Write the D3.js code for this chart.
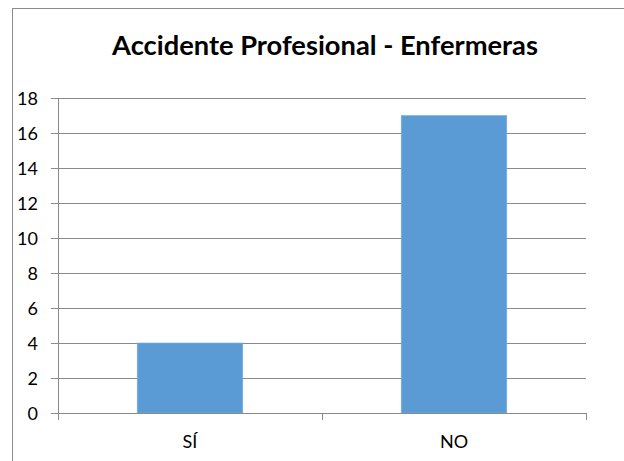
<!DOCTYPE html>
<html><head><meta charset="utf-8">
<script src="https://cdn.jsdelivr.net/npm/d3@7"></script>
<style>html,body{margin:0;padding:0;background:#fff;}svg{display:block;}</style>
</head><body>
<script>
const categories = ["SÍ", "NO"];
const values = [4, 17];
const yTicks = [0, 2, 4, 6, 8, 10, 12, 14, 16, 18];
const title = "Accidente Profesional - Enfermeras";

const W = 624, H = 461;
const svg = d3.select("body").append("svg").attr("width", W).attr("height", H);
const font = "Lato, 'Open Sans', sans-serif";

// chart outer border
svg.append("rect").attr("x", 12.5).attr("y", 8.5).attr("width", 640).attr("height", 470)
  .attr("fill", "#fff").attr("stroke", "#8c8c8c").attr("stroke-width", 1);

const plot = {left: 58, right: 586, top: 98, bottom: 413};
const x = d3.scaleBand().domain(categories).range([plot.left, plot.right]).padding(0);
const y = d3.scaleLinear().domain([0, 18]).range([plot.bottom, plot.top]);

const grid = "#8a8a8a";
// gridlines
svg.append("g").selectAll("line").data(yTicks).join("line")
  .attr("x1", plot.left - 7).attr("x2", plot.right)
  .attr("y1", d => Math.round(y(d)) + 0.5).attr("y2", d => Math.round(y(d)) + 0.5)
  .attr("stroke", grid).attr("stroke-width", 1);

// bars
const barW = x.bandwidth() * 0.4;
svg.append("g").selectAll("rect").data(values).join("rect")
  .attr("x", (d, i) => x(categories[i]) + (x.bandwidth() - barW) / 2)
  .attr("y", d => y(d))
  .attr("width", barW)
  .attr("height", d => plot.bottom - y(d))
  .attr("fill", "#5b9bd5")
  .attr("stroke", "#7fb0e0").attr("stroke-width", 0.6);

// y axis line
svg.append("line").attr("x1", plot.left + 0.5).attr("x2", plot.left + 0.5)
  .attr("y1", plot.top).attr("y2", plot.bottom).attr("stroke", grid);
// x axis line
svg.append("line").attr("x1", plot.left - 7).attr("x2", plot.right + 0.5)
  .attr("y1", plot.bottom + 0.5).attr("y2", plot.bottom + 0.5).attr("stroke", grid);
// x category ticks
const xb = [plot.left, plot.left + x.step(), plot.right];
svg.append("g").selectAll("line").data(xb).join("line")
  .attr("x1", d => Math.round(d) + 0.5).attr("x2", d => Math.round(d) + 0.5)
  .attr("y1", plot.bottom).attr("y2", plot.bottom + 7).attr("stroke", grid);

// y tick labels
svg.append("g").selectAll("text").data(yTicks).join("text")
  .attr("x", 38).attr("y", d => y(d) + 6.5)
  .attr("text-anchor", "end").attr("font-family", font).attr("font-size", 18)
  .attr("fill", "#000").text(d => d);

// x labels
svg.append("g").selectAll("text").data(categories).join("text")
  .attr("x", d => x(d) + x.bandwidth() / 2).attr("y", 448)
  .attr("text-anchor", "middle").attr("font-family", font).attr("font-size", 18)
  .attr("fill", "#000").text(d => d);

// title
const t = svg.append("text").attr("x", 325).attr("y", 55)
  .attr("text-anchor", "middle").attr("font-family", font).attr("font-weight", "bold")
  .attr("font-size", 24).attr("fill", "#000").text(title);
const len = t.node().getComputedTextLength();
t.attr("font-size", 24 * 426 / len);
</script>
</body></html>
